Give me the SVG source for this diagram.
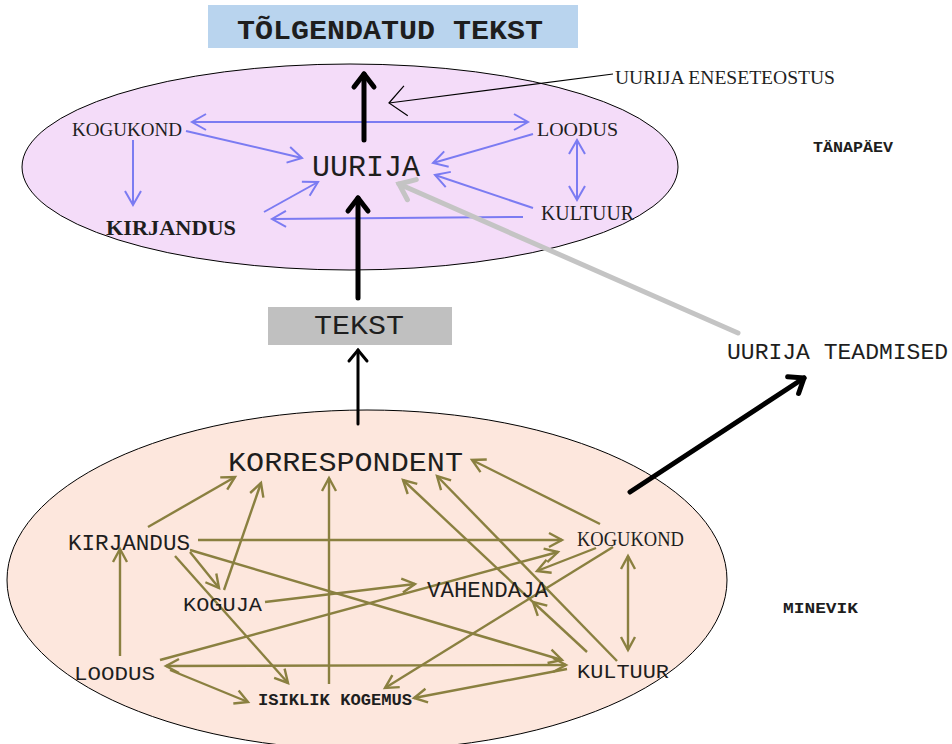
<svg xmlns="http://www.w3.org/2000/svg" width="952" height="744" viewBox="0 0 952 744">
<style>
.mono{font-family:"Liberation Mono","DejaVu Sans Mono",monospace;fill:#1e1e1e}
.serif{font-family:"Liberation Serif","DejaVu Serif",serif;fill:#1e1e1e}
.b{stroke:#7b7bf2;stroke-width:2;fill:none}
.o{stroke:#8a8040;stroke-width:2.4;fill:none}
.k{stroke:#000;fill:none;stroke-linecap:round}
</style>
<defs>
<marker id="mb" markerUnits="userSpaceOnUse" markerWidth="30" markerHeight="30" refX="14" refY="8" orient="auto-start-reverse" overflow="visible"><path d="M0,0 L14,8 L0,16" fill="none" stroke="#7b7bf2" stroke-width="2"/></marker>
<marker id="mo" markerUnits="userSpaceOnUse" markerWidth="30" markerHeight="30" refX="13" refY="7" orient="auto-start-reverse" overflow="visible"><path d="M0,0 L13,7 L0,14" fill="none" stroke="#8a8040" stroke-width="2.4"/></marker>
<marker id="mk" markerUnits="userSpaceOnUse" markerWidth="30" markerHeight="30" refX="13" refY="10" orient="auto" overflow="visible"><path d="M0,0 L13,10 L0,20" fill="none" stroke="#000" stroke-width="5" stroke-linecap="round" stroke-linejoin="round"/></marker>
<marker id="mk3" markerUnits="userSpaceOnUse" markerWidth="30" markerHeight="30" refX="11" refY="9" orient="auto" overflow="visible"><path d="M0,0 L11,9 L0,18" fill="none" stroke="#000" stroke-width="3" stroke-linecap="round"/></marker>
<marker id="mt" markerUnits="userSpaceOnUse" markerWidth="30" markerHeight="30" refX="17" refY="15" orient="auto" overflow="visible"><path d="M0,0 L17,15 L0,30" fill="none" stroke="#000" stroke-width="1.2"/></marker>
<marker id="mg" markerUnits="userSpaceOnUse" markerWidth="30" markerHeight="30" refX="14" refY="11" orient="auto" overflow="visible"><path d="M0,0 L14,11 L0,22" fill="none" stroke="#c4c4c4" stroke-width="5" stroke-linecap="round"/></marker>
</defs>
<rect width="952" height="744" fill="#fff"/>

<g id="top-box"><rect x="208" y="5" width="370" height="43" fill="#b9d4ee"/><text class="mono" x="237" y="39" font-size="28" font-weight="bold" textLength="306" lengthAdjust="spacingAndGlyphs">TÕLGENDATUD TEKST</text></g>

<g id="ellipse-today"><ellipse cx="350" cy="167" rx="328" ry="103" fill="#f4dcf9" stroke="#000" stroke-width="1"/></g>
<g id="ellipse-past"><ellipse cx="367" cy="580" rx="360" ry="170" fill="#fde7dd" stroke="#000" stroke-width="1"/></g>

<g id="connectors">
<!-- upper blue -->
<line class="b" x1="192" y1="122" x2="528" y2="122" marker-start="url(#mb)" marker-end="url(#mb)"/>
<line class="b" x1="186" y1="131" x2="302" y2="158" marker-end="url(#mb)"/>
<line class="b" x1="133" y1="140" x2="133" y2="205" marker-end="url(#mb)"/>
<line class="b" x1="533" y1="134" x2="433" y2="163" marker-end="url(#mb)"/>
<line class="b" x1="533" y1="208" x2="435" y2="175" marker-end="url(#mb)"/>
<line class="b" x1="577" y1="140" x2="577" y2="200" marker-start="url(#mb)" marker-end="url(#mb)"/>
<line class="b" x1="523" y1="217" x2="272" y2="219" marker-end="url(#mb)"/>
<line class="b" x1="264" y1="212" x2="318" y2="182" marker-end="url(#mb)"/>
<!-- black -->
<line class="k" x1="364" y1="140" x2="364" y2="74" stroke-width="5" marker-end="url(#mk)"/>
<line class="k" x1="358" y1="298" x2="358" y2="198" stroke-width="5" marker-end="url(#mk)"/>
<line class="k" x1="358" y1="424" x2="358" y2="350" stroke-width="3" marker-end="url(#mk3)"/>
<line class="k" x1="630" y1="492" x2="804" y2="378" stroke-width="5" marker-end="url(#mk)"/>
<line x1="613" y1="74" x2="389" y2="103" stroke="#000" stroke-width="1.2" marker-end="url(#mt)"/>
<line x1="738" y1="333" x2="399" y2="184" stroke="#c4c4c4" stroke-width="5" stroke-linecap="round" marker-end="url(#mg)"/>
<!-- lower olive -->
<line class="o" x1="148" y1="527" x2="235" y2="477" marker-end="url(#mo)"/>
<line class="o" x1="224" y1="590" x2="261" y2="483" marker-end="url(#mo)"/>
<line class="o" x1="329" y1="684" x2="329" y2="478" marker-end="url(#mo)"/>
<line class="o" x1="600" y1="524" x2="472" y2="460" marker-end="url(#mo)"/>
<line class="o" x1="587" y1="652" x2="533" y2="602" marker-end="url(#mo)"/>
<line class="o" x1="533" y1="602" x2="403" y2="480" marker-end="url(#mo)"/>
<line class="o" x1="617" y1="661" x2="437" y2="476" marker-end="url(#mo)"/>
<line class="o" x1="198" y1="540" x2="562" y2="540" marker-end="url(#mo)"/>
<line class="o" x1="190" y1="552" x2="219" y2="588" marker-end="url(#mo)"/>
<line class="o" x1="175" y1="556" x2="288" y2="683" marker-end="url(#mo)"/>
<line class="o" x1="190" y1="550" x2="562" y2="660" marker-end="url(#mo)"/>
<line class="o" x1="265" y1="602" x2="415" y2="584" marker-end="url(#mo)"/>
<line class="o" x1="160" y1="660" x2="558" y2="552" marker-end="url(#mo)"/>
<line class="o" x1="596" y1="548" x2="537" y2="571" marker-end="url(#mo)"/>
<line class="o" x1="613" y1="547" x2="385" y2="688" marker-end="url(#mo)"/>
<line class="o" x1="120" y1="656" x2="120" y2="549" marker-end="url(#mo)"/>
<line class="o" x1="166" y1="666" x2="566" y2="665" marker-start="url(#mo)" marker-end="url(#mo)"/>
<line class="o" x1="170" y1="670" x2="248" y2="702" marker-end="url(#mo)"/>
<line class="o" x1="567" y1="669" x2="414" y2="698" marker-end="url(#mo)"/>
<line class="o" x1="628" y1="556" x2="628" y2="650" marker-start="url(#mo)" marker-end="url(#mo)"/>
</g>

<g id="uurija"><text class="mono" x="312" y="176" font-size="29" textLength="108" lengthAdjust="spacingAndGlyphs">UURIJA</text></g>
<g id="kogukond-today"><text class="serif" x="72" y="136" font-size="19" textLength="110" lengthAdjust="spacingAndGlyphs">KOGUKOND</text></g>
<g id="loodus-today"><text class="serif" x="537" y="136" font-size="19" textLength="81" lengthAdjust="spacingAndGlyphs">LOODUS</text></g>
<g id="kultuur-today"><text class="serif" x="541" y="220" font-size="20" textLength="93" lengthAdjust="spacingAndGlyphs">KULTUUR</text></g>
<g id="kirjandus-today"><text class="serif" x="106" y="235" font-size="20" font-weight="bold" textLength="130" lengthAdjust="spacingAndGlyphs">KIRJANDUS</text></g>
<g id="eneseteostus"><text class="serif" x="615" y="84" font-size="19" textLength="220" lengthAdjust="spacingAndGlyphs">UURIJA ENESETEOSTUS</text></g>
<g id="tanapaev"><text class="mono" x="813" y="152" font-size="14" font-weight="bold" textLength="80" lengthAdjust="spacingAndGlyphs">TÄNAPÄEV</text></g>
<g id="tekst"><rect x="268" y="307" width="184" height="38" fill="#c0c0c0"/><text class="mono" x="314" y="334" font-size="28" textLength="90" lengthAdjust="spacingAndGlyphs">TEKST</text></g>
<g id="teadmised"><text class="mono" x="727" y="359" font-size="22" textLength="221" lengthAdjust="spacingAndGlyphs">UURIJA TEADMISED</text></g>
<g id="korrespondent"><text class="mono" x="228" y="471" font-size="28" textLength="235" lengthAdjust="spacingAndGlyphs">KORRESPONDENT</text></g>
<g id="kirjandus-past"><text class="mono" x="68" y="550" font-size="22" textLength="122" lengthAdjust="spacingAndGlyphs">KIRJANDUS</text></g>
<g id="kogukond-past"><text class="serif" x="577" y="546" font-size="21" textLength="107" lengthAdjust="spacingAndGlyphs">KOGUKOND</text></g>
<g id="koguja"><text class="mono" x="183" y="611" font-size="21" textLength="79" lengthAdjust="spacingAndGlyphs">KOGUJA</text></g>
<g id="vahendaja"><text class="mono" x="427" y="597" font-size="22" textLength="121" lengthAdjust="spacingAndGlyphs">VAHENDAJA</text></g>
<g id="loodus-past"><text class="mono" x="74" y="680" font-size="21" textLength="81" lengthAdjust="spacingAndGlyphs">LOODUS</text></g>
<g id="kultuur-past"><text class="mono" x="577" y="678" font-size="21" textLength="92" lengthAdjust="spacingAndGlyphs">KULTUUR</text></g>
<g id="isiklik"><text class="mono" x="258" y="705" font-size="16" font-weight="bold" textLength="154" lengthAdjust="spacingAndGlyphs">ISIKLIK KOGEMUS</text></g>
<g id="minevik"><text class="mono" x="783" y="613" font-size="14" font-weight="bold" textLength="75" lengthAdjust="spacingAndGlyphs">MINEVIK</text></g>
</svg>
